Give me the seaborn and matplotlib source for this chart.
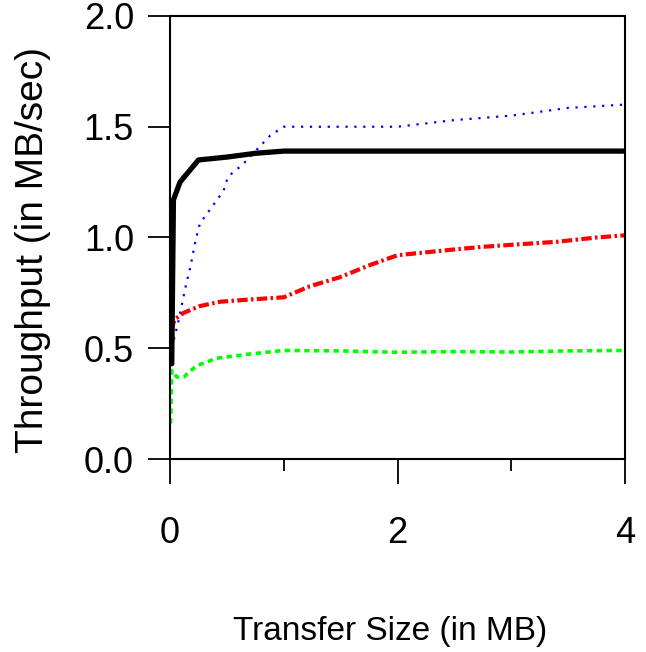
import matplotlib
matplotlib.use("Agg")
import matplotlib.pyplot as plt
import seaborn as sns
import pandas as pd
import numpy as np

# ---- data ----
black_x = [0.015, 0.03, 0.088, 0.12, 0.25, 0.5, 0.75, 1.0, 2.0, 3.0, 4.0]
black_y = [0.43, 1.17, 1.25, 1.27, 1.35, 1.363, 1.38, 1.39, 1.39, 1.39, 1.39]

blue_x = [0.015, 0.073, 0.14, 0.18, 0.226, 0.264, 0.35, 0.47, 0.51, 0.64, 0.76, 0.88, 1.0,
          1.5, 2.0, 2.5, 3.0, 3.5, 4.0]
blue_y = [0.50, 0.62, 0.785, 0.87, 0.99, 1.065, 1.125, 1.21, 1.275, 1.33, 1.395, 1.46, 1.50,
          1.50, 1.50, 1.53, 1.55, 1.585, 1.60]

red_x = [0.01, 0.04, 0.12, 0.26, 0.44, 0.70, 1.0, 1.23, 1.49, 1.76, 2.0, 2.46, 2.75, 3.09,
         3.41, 3.75, 4.0]
red_y = [0.58, 0.63, 0.66, 0.69, 0.71, 0.72, 0.73, 0.78, 0.82, 0.876, 0.92, 0.944, 0.958,
         0.97, 0.981, 1.0, 1.01]

green_x = [0.005, 0.015, 0.06, 0.12, 0.23, 0.41, 0.70, 1.0, 1.5, 2.0, 2.5, 3.0, 3.5, 4.0]
green_y = [0.16, 0.40, 0.37, 0.37, 0.42, 0.455, 0.474, 0.49, 0.488, 0.482, 0.485, 0.483,
           0.488, 0.49]

x_major = [0, 2, 4]
x_minor = [1, 3]
y_ticks = [0.0, 0.5, 1.0, 1.5, 2.0]
y_tick_labels = ["0.0", "0.5", "1.0", "1.5", "2.0"]

# ---- style ----
sns.set_style("ticks")
plt.rcParams["font.family"] = ["Liberation Sans", "DejaVu Sans"]
plt.rcParams["text.color"] = "black"
plt.rcParams["axes.labelcolor"] = "black"
plt.rcParams["xtick.color"] = "black"
plt.rcParams["ytick.color"] = "black"

fig = plt.figure(figsize=(6.46, 6.52), dpi=100)
ax = fig.add_axes([0.2632, 0.296, 0.7043, 0.6795])

series = [
    (green_x, green_y, (0, 1, 0), (0, (1.5, 1.2)), 2.6),
    (red_x, red_y, (1, 0, 0), (0, (2.5, 0.8, 0.6, 0.8)), 3.0),
    (blue_x, blue_y, (0, 0, 1), (0, (1, 3)), 1.6),
    (black_x, black_y, (0, 0, 0), "-", 3.8),
]
for xs, ys, col, ls, lw in series:
    df = pd.DataFrame({"x": xs, "y": ys})
    sns.lineplot(data=df, x="x", y="y", ax=ax, color=col, linestyle=ls, linewidth=lw,
                 estimator=None, sort=False)

ax.set_xlim(0, 4)
ax.set_ylim(0, 2.0)
ax.set_xticks(x_major)
ax.set_xticks(x_minor, minor=True)
ax.set_yticks(y_ticks)
ax.set_yticklabels(y_tick_labels)

for s in ax.spines.values():
    s.set_visible(True)
    s.set_linewidth(1.5)
    s.set_color("black")

ax.tick_params(axis="x", which="major", direction="out", length=18, width=1.3,
               labelsize=26, pad=23, top=False, colors="black")
ax.tick_params(axis="x", which="minor", direction="out", length=8.6, width=1.3, top=False,
               colors="black")
ax.tick_params(axis="y", which="major", direction="out", length=16, width=1.3,
               labelsize=26, pad=10, right=False, colors="black")

ax.set_xlabel("Transfer Size (in MB)", fontsize=24, color="black")
ax.xaxis.set_label_coords(0.4835, -0.354)
ax.set_ylabel("Throughput (in MB/sec)", fontsize=28, color="black")
ax.yaxis.set_label_coords(-0.262, 0.472)

fig.savefig("out.png", dpi=100)
